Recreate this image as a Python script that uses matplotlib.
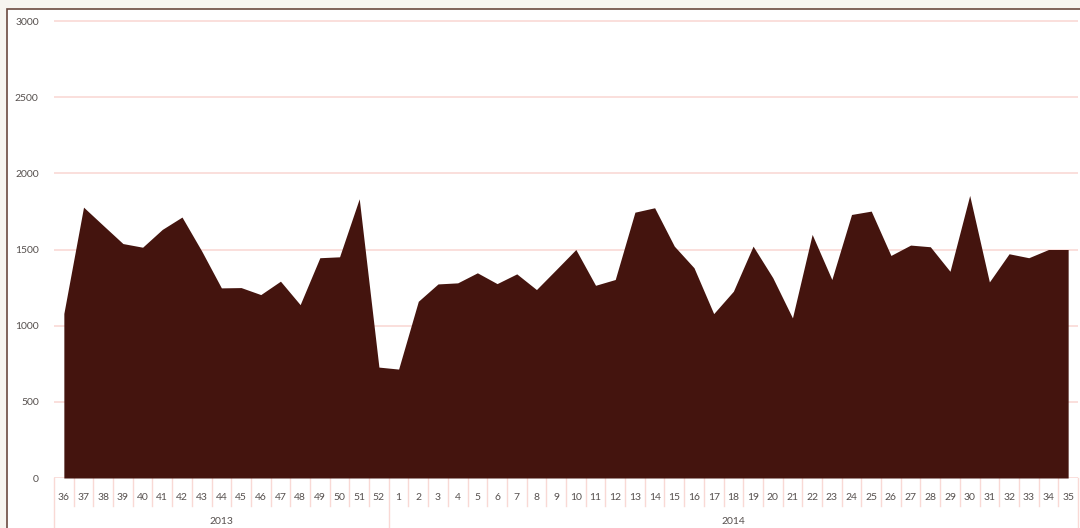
import numpy as np
import matplotlib.pyplot as plt
from matplotlib.patches import Rectangle

# Semanas y valores
weeks_2013 = [36, 37, 38, 39, 40, 41, 42, 43, 44, 45, 46, 47, 48, 49, 50, 51, 52]
weeks_2014 = list(range(1, 36))
values_2013 = [1080, 1778, 1658, 1539, 1515, 1632, 1713, 1490, 1248, 1250, 1204,
               1292, 1138, 1446, 1452, 1833, 728]
values_2014 = [715, 1160, 1274, 1281, 1347, 1276, 1340, 1237, 1368, 1500, 1265,
               1303, 1745, 1774, 1522, 1380, 1079, 1226, 1522, 1315, 1051, 1599,
               1303, 1730, 1752, 1461, 1529, 1518, 1357, 1855, 1287, 1472, 1446,
               1500, 1500]
years = ['2013', '2014']

weeks = weeks_2013 + weeks_2014
values = values_2013 + values_2014
x = np.arange(len(weeks))

area_color = '#44140e'
grid_color = '#f9d9d5'
text_color = '#56504e'

plt.rcParams['font.family'] = ['Lato', 'DejaVu Sans']

fig = plt.figure(figsize=(10.8, 5.28), dpi=100)
fig.patch.set_facecolor('#f7f5f0')

# Marco del gráfico
W, H = 1080, 528
fig.patches.append(Rectangle((7 / W, -0.1), 1.2, 1 - 9 / H + 0.1, transform=fig.transFigure,
                             facecolor='white', edgecolor='#6b4a40', linewidth=1.2, zorder=-10))

# un poco de margen arriba para que la línea de 3000 no quede recortada
ymax = 3030
ax_h = 457 * ymax / 3000
ax = fig.add_axes([54 / W, (H - 478) / H, 1024 / W, ax_h / H])
ax.set_zorder(5)
ax.set_facecolor('none')
ax.fill_between(x, values, 0, color=area_color, linewidth=0, zorder=3)

ax.set_xlim(-0.5, len(weeks) - 0.5)
ax.set_ylim(0, ymax)
ax.set_yticks(np.arange(0, 3001, 500))
ax.grid(axis='y', color=grid_color, linewidth=1.2, zorder=0)
ax.set_axisbelow(True)
for s in ax.spines.values():
    s.set_visible(False)

ax.set_xticks(x)
ax.set_xticklabels([str(w) for w in weeks])
ax.tick_params(axis='x', length=0, pad=11, labelsize=7.5, labelcolor=text_color)
ax.tick_params(axis='y', length=0, pad=11, labelsize=7.5, labelcolor=text_color)

# Separadores de categorías
tr = ax.get_xaxis_transform()
short = -28 / ax_h
full = -52 / ax_h
for i in range(len(weeks) + 1):
    b = i - 0.5
    bottom = full if i in (0, len(weeks_2013), len(weeks)) else short
    ax.plot([b, b], [0, bottom], transform=tr, color=grid_color, lw=1, clip_on=False)

# Etiquetas de año
centers = [(len(weeks_2013) - 1) / 2, len(weeks_2013) + (len(weeks_2014) - 1) / 2]
for c, yr in zip(centers, years):
    ax.text(c, -43 / ax_h, yr, transform=tr, ha='center', va='center',
            fontsize=7.5, color=text_color)

plt.savefig('out.png', dpi=100, facecolor=fig.get_facecolor())
